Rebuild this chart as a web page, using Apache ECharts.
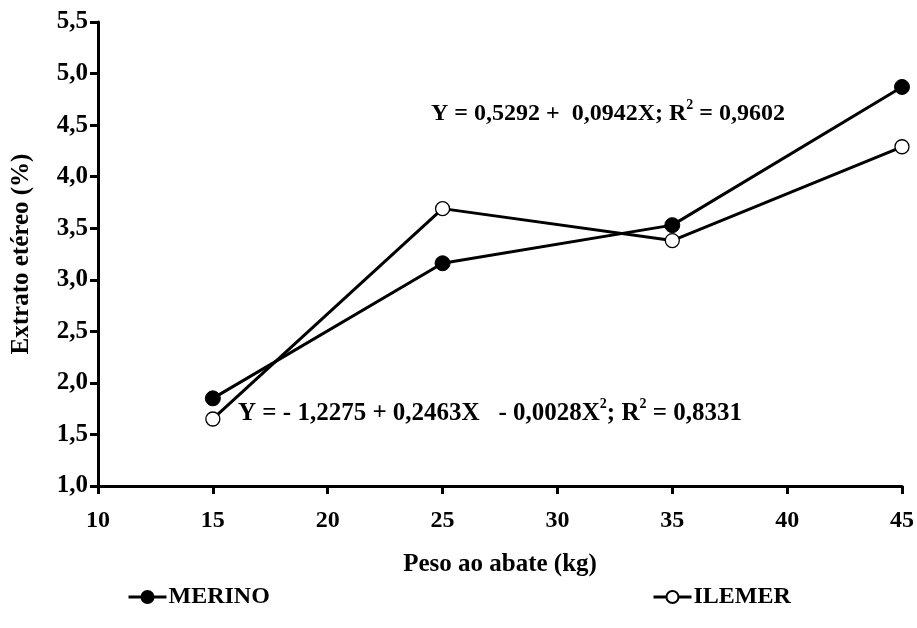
<!DOCTYPE html>
<html>
<head>
<meta charset="utf-8">
<script src="https://cdn.jsdelivr.net/npm/echarts@6/dist/echarts.min.js"></script>
<style>
  html, body { margin: 0; padding: 0; background: #fff; }
  #chart { width: 917px; height: 628px; }
</style>
</head>
<body>
<div id="chart"></div>
<script>
// Slaughter weight (kg) and ether extract (%) for two breeds
const pesoAbate = [15, 25, 35, 45];
const merino = [1.85, 3.16, 3.53, 4.87];
const ilemer = [1.65, 3.69, 3.38, 4.29];

const FONT = '"Liberation Serif", "Times New Roman", serif';

const chart = echarts.init(document.getElementById('chart'));

const pairs = (xs, ys) => xs.map((x, i) => [x, ys[i]]);
const comma = v => v.toFixed(1).replace('.', ',');

const boldText = size => ({ fontFamily: FONT, fontWeight: 'bold', fontSize: size, color: '#000' });

// rich-text styles for the regression equations (with superscripts)
const eqRich = size => ({
  t: Object.assign(boldText(size), { lineHeight: size + 4, verticalAlign: 'bottom' }),
  s: Object.assign(boldText(14), { lineHeight: 14, verticalAlign: 'top', padding: [0, 0, 12, 0] })
});

const legendBase = {
  padding: 0, itemWidth: 38, itemHeight: 15, itemGap: 4,
  lineStyle: { color: '#000', width: 3 },
  textStyle: Object.assign(boldText(24), { padding: [0, 0, 0, -3] })
};

chart.setOption({
  backgroundColor: '#fff',
  animation: false,
  textStyle: { fontFamily: FONT, color: '#000' },
  grid: { left: 98, right: 14, top: 22, bottom: 142, containLabel: false },
  xAxis: {
    type: 'value', min: 10, max: 45, interval: 5,
    name: 'Peso ao abate (kg)', nameLocation: 'middle', nameGap: 66,
    nameTextStyle: boldText(25),
    axisLine: { show: true, lineStyle: { color: '#000', width: 3 } },
    axisTick: { show: true, length: 8, lineStyle: { color: '#000', width: 3 } },
    axisLabel: Object.assign(boldText(24), { margin: 23 }),
    splitLine: { show: false }
  },
  yAxis: {
    type: 'value', min: 1, max: 5.5, interval: 0.5,
    name: 'Extrato etéreo (%)', nameLocation: 'middle', nameGap: 64, nameRotate: 90,
    nameTextStyle: boldText(25),
    axisLine: { show: true, lineStyle: { color: '#000', width: 3 } },
    axisTick: { show: true, length: 8, lineStyle: { color: '#000', width: 3 } },
    axisLabel: Object.assign(boldText(25), { margin: 10, formatter: comma }),
    splitLine: { show: false }
  },
  legend: [
    Object.assign({ data: ['MERINO'], left: 127, top: 585 }, legendBase),
    Object.assign({ data: ['ILEMER'], left: 652, top: 585 }, legendBase)
  ],
  series: [
    {
      name: 'MERINO', type: 'line', data: pairs(pesoAbate, merino),
      symbol: 'circle', symbolSize: 15,
      lineStyle: { color: '#000', width: 3 },
      itemStyle: { color: '#000', borderColor: '#000', borderWidth: 1 },
      z: 3
    },
    {
      name: 'ILEMER', type: 'line', data: pairs(pesoAbate, ilemer),
      symbol: 'circle', symbolSize: 14,
      lineStyle: { color: '#000', width: 3 },
      itemStyle: { color: '#fff', borderColor: '#000', borderWidth: 1.3 },
      z: 4
    }
  ],
  graphic: [
    {
      type: 'text', left: 431, top: 98,
      style: { text: '{t|Y = 0,5292 +  0,0942X; R}{s|2}{t| = 0,9602}', rich: eqRich(24) }
    },
    {
      type: 'text', left: 238, top: 397,
      style: { text: '{t|Y = - 1,2275 + 0,2463X   - 0,0028X}{s|2}{t|; R}{s|2}{t| = 0,8331}', rich: eqRich(25) }
    }
  ]
});
</script>
</body>
</html>
